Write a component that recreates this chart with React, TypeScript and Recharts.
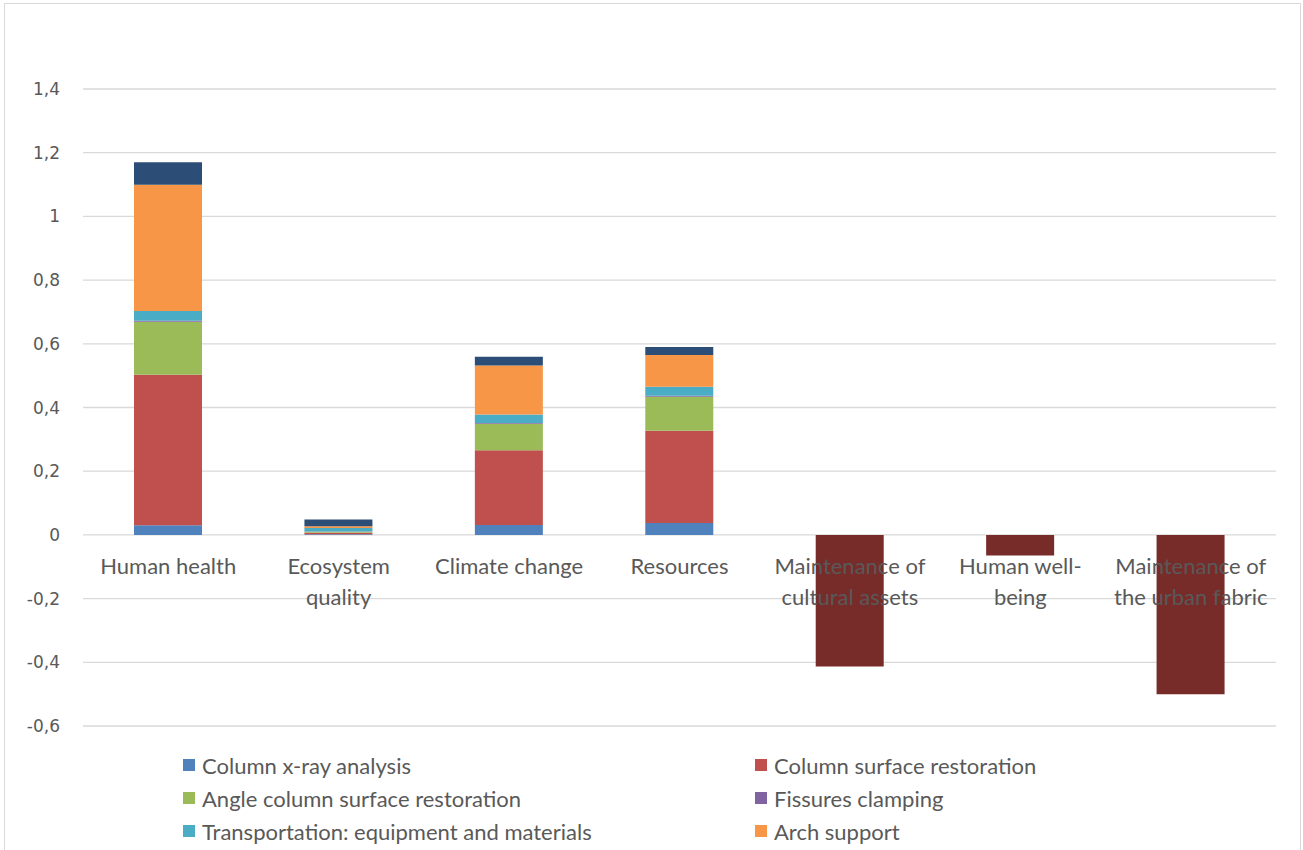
import { BarChart, Bar, XAxis, YAxis, CartesianGrid } from 'recharts'

// impact categories (x axis) and how each label wraps under the axis
const categories = [
    'Human health',
    'Ecosystem quality',
    'Climate change',
    'Resources',
    'Maintenance of cultural assets',
    'Human well-being',
    'Maintenance of the urban fabric',
]
const categoryLines = [
    ['Human health'],
    ['Ecosystem', 'quality'],
    ['Climate change'],
    ['Resources'],
    ['Maintenance of', 'cultural assets'],
    ['Human well-', 'being'],
    ['Maintenance of', 'the urban fabric'],
]

// contribution of each intervention, per category
const xRayAnalysis = [0.03, 0.002, 0.031, 0.037, 0, 0, 0]
const surfaceRestoration = [0.473, 0.005, 0.235, 0.29, 0, 0, 0]
const angleRestoration = [0.166, 0.003, 0.083, 0.107, 0, 0, 0]
const fissuresClamping = [0.003, 0.001, 0.002, 0.003, 0, 0, 0]
const transportation = [0.031, 0.011, 0.027, 0.028, 0, 0, 0]
const archSupport = [0.396, 0.005, 0.154, 0.1, 0, 0, 0]
const roofRepair = [0.071, 0.021, 0.027, 0.025, 0, 0, 0]
const socialBenefits = [0, 0, 0, 0, -0.413, -0.065, -0.5]

const yTicks = [-0.6, -0.4, -0.2, 0, 0.2, 0.4, 0.6, 0.8, 1, 1.2, 1.4]

const series = [
    { key: 'xray', name: 'Column x-ray analysis', values: xRayAnalysis, color: '#4F81BD' },
    { key: 'surface', name: 'Column surface restoration', values: surfaceRestoration, color: '#C0504D' },
    { key: 'angle', name: 'Angle column surface restoration', values: angleRestoration, color: '#9BBB59' },
    { key: 'fissures', name: 'Fissures clamping', values: fissuresClamping, color: '#8064A2' },
    { key: 'transport', name: 'Transportation: equipment and materials', values: transportation, color: '#4BACC6' },
    { key: 'arch', name: 'Arch support', values: archSupport, color: '#F79646' },
    { key: 'roof', name: 'Roof repair', values: roofRepair, color: '#2C4D75' },
    { key: 'social', name: 'Social benefits', values: socialBenefits, color: '#772C2A' },
]

// only the first three legend rows fit inside the frame
const legendItems = series.slice(0, 6)

const data = categories.map((name, i) => {
    const row: Record<string, number | string> = { name }
    series.forEach((s) => {
        row[s.key] = s.values[i]
    })
    return row
})

const CHART_W = 1303
const CHART_H = 740
const X_AXIS_H = 14
const MARGIN = { top: 89, right: 27, left: 0, bottom: 0 }
const PLOT_H = CHART_H - MARGIN.top - MARGIN.bottom - X_AXIS_H
const Y_MIN = -0.6
const Y_MAX = 1.4

const labelFont = 'Lato, "Open Sans", sans-serif'
const textColor = '#595959'

// Category labels sit just under the zero line, not at the bottom of the plot
function CategoryTick(props: any) {
    const { x, y, payload } = props
    const zeroY = y - (PLOT_H * (0 - Y_MIN)) / (Y_MAX - Y_MIN)
    const lines = categoryLines[categories.indexOf(payload.value)] || [payload.value]
    return (
        <g>
            {lines.map((line: string, i: number) => (
                <text
                    key={i}
                    x={x}
                    y={zeroY + 39 + i * 31}
                    textAnchor="middle"
                    fill={textColor}
                    fontSize={22}
                    fontFamily={labelFont}
                >
                    {line}
                </text>
            ))}
        </g>
    )
}

const fmt = (v: number) => String(v).replace('.', ',')

export default function App() {
    return (
        <div
            style={{
                position: 'absolute',
                left: 0,
                top: 0,
                width: 1303,
                height: 850,
                overflow: 'hidden',
                background: '#fff',
            }}
        >
            <div
                style={{
                    position: 'absolute',
                    left: 4,
                    top: 3,
                    width: 1295,
                    height: 900,
                    border: '1px solid #d9d9d9',
                }}
            />
            <div style={{ position: 'absolute', left: 0, top: 0 }}>
                <BarChart width={CHART_W} height={CHART_H} data={data} margin={MARGIN} stackOffset="sign">
                    <CartesianGrid vertical={false} stroke="#d9d9d9" strokeWidth={1.3} />
                    <YAxis
                        width={83}
                        domain={[Y_MIN, Y_MAX]}
                        ticks={yTicks}
                        axisLine={false}
                        tickLine={false}
                        tickSize={0}
                        tickMargin={23}
                        tickFormatter={fmt}
                        tick={{ fill: textColor, fontSize: 17, fontFamily: '"DejaVu Sans", sans-serif' }}
                    />
                    {series.map((s) => (
                        <Bar
                            key={s.key}
                            dataKey={s.key}
                            name={s.name}
                            stackId="a"
                            fill={s.color}
                            barSize={68}
                            isAnimationActive={false}
                        />
                    ))}
                    <XAxis
                        dataKey="name"
                        height={X_AXIS_H}
                        axisLine={false}
                        tickLine={false}
                        tickSize={0}
                        tickMargin={0}
                        interval={0}
                        tick={(p: any) => <CategoryTick {...p} />}
                    />
                </BarChart>
            </div>
            {legendItems.map((s, i) => {
                const col = i % 2
                const row = Math.floor(i / 2)
                return (
                    <div
                        key={s.key}
                        style={{
                            position: 'absolute',
                            left: col === 0 ? 183 : 755,
                            top: 765 + row * 33 - 13,
                            height: 26,
                            display: 'flex',
                            alignItems: 'center',
                            fontFamily: labelFont,
                            fontSize: 22,
                            color: textColor,
                            whiteSpace: 'nowrap',
                        }}
                    >
                        <span
                            style={{
                                display: 'inline-block',
                                width: 12,
                                height: 12,
                                background: s.color,
                                marginRight: 7,
                            }}
                        />
                        {s.name}
                    </div>
                )
            })}
        </div>
    )
}
